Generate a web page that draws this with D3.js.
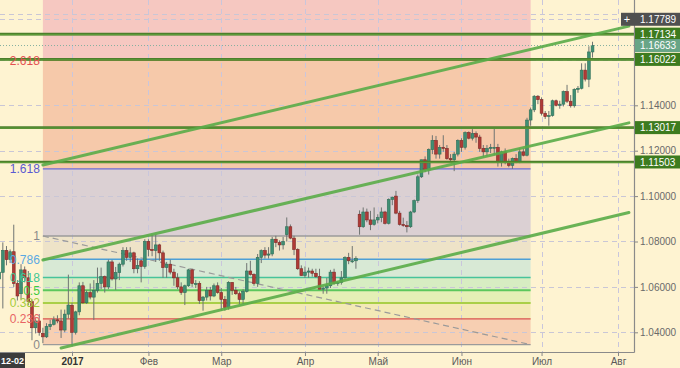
<!DOCTYPE html>
<html>
<head>
<meta charset="utf-8">
<script src="https://cdn.jsdelivr.net/npm/d3@7"></script>
<style>
body { margin: 0; background: #fef3d1; }
svg { display: block; font-family: "Liberation Sans", Arial, sans-serif; }
</style>
</head>
<body>
<svg width="680" height="368"></svg>
<script>
// trading calendar
var firstDay = "2016-12-02", lastDay = "2017-08-08";
var holidays = ["2016-12-26", "2017-01-02"];

// daily candles [open, high, low, close], one per trading day from 2016-12-02
var candles = [
    // Dec
    [1.0635, 1.0680, 1.0600, 1.0665], [1.0664, 1.0796, 1.0505, 1.0761], [1.0761, 1.0780, 1.0695, 1.0720],
    [1.0720, 1.0765, 1.0705, 1.0755], [1.0755, 1.0874, 1.0600, 1.0615], [1.0615, 1.0630, 1.0540, 1.0560],
    [1.0570, 1.0700, 1.0545, 1.0675], [1.0675, 1.0690, 1.0620, 1.0640], [1.0640, 1.0670, 1.0520, 1.0535],
    [1.0535, 1.0545, 1.0365, 1.0420], [1.0420, 1.0465, 1.0395, 1.0450], [1.0450, 1.0480, 1.0385, 1.0400],
    [1.0395, 1.0420, 1.0352, 1.0380], [1.0380, 1.0440, 1.0375, 1.0425], [1.0425, 1.0455, 1.0410, 1.0435],
    [1.0435, 1.0470, 1.0430, 1.0455], [1.0455, 1.0475, 1.0440, 1.0450], [1.0450, 1.0500, 1.0375, 1.0410],
    [1.0410, 1.0500, 1.0400, 1.0480], [1.0480, 1.0654, 1.0460, 1.0520],
    // Jan
    [1.0519, 1.0530, 1.0340, 1.0400], [1.0400, 1.0495, 1.0390, 1.0490], [1.0490, 1.0620, 1.0475, 1.0605],
    [1.0605, 1.0622, 1.0525, 1.0530], [1.0530, 1.0585, 1.0525, 1.0575], [1.0575, 1.0615, 1.0545, 1.0555],
    [1.0555, 1.0630, 1.0454, 1.0585], [1.0585, 1.0685, 1.0575, 1.0615], [1.0615, 1.0685, 1.0590, 1.0645],
    [1.0645, 1.0650, 1.0575, 1.0600], [1.0600, 1.0720, 1.0590, 1.0710], [1.0710, 1.0719, 1.0628, 1.0635],
    [1.0635, 1.0688, 1.0587, 1.0663], [1.0663, 1.0707, 1.0630, 1.0700], [1.0700, 1.0775, 1.0690, 1.0760],
    [1.0760, 1.0775, 1.0715, 1.0730], [1.0730, 1.0775, 1.0710, 1.0750], [1.0750, 1.0755, 1.0660, 1.0680],
    [1.0680, 1.0725, 1.0660, 1.0695], [1.0715, 1.0720, 1.0620, 1.0690], [1.0690, 1.0810, 1.0680, 1.0800],
    // Feb
    [1.0800, 1.0810, 1.0735, 1.0765], [1.0765, 1.0830, 1.0735, 1.0760], [1.0760, 1.0830, 1.0710, 1.0785],
    [1.0785, 1.0790, 1.0715, 1.0750], [1.0750, 1.0760, 1.0640, 1.0685], [1.0685, 1.0710, 1.0640, 1.0700],
    [1.0700, 1.0720, 1.0655, 1.0665], [1.0665, 1.0680, 1.0605, 1.0640], [1.0640, 1.0660, 1.0590, 1.0600],
    [1.0600, 1.0620, 1.0565, 1.0575], [1.0575, 1.0610, 1.0520, 1.0605], [1.0605, 1.0680, 1.0600, 1.0675],
    [1.0675, 1.0680, 1.0600, 1.0615], [1.0615, 1.0630, 1.0595, 1.0615], [1.0615, 1.0625, 1.0525, 1.0540],
    [1.0540, 1.0560, 1.0495, 1.0555], [1.0555, 1.0600, 1.0540, 1.0585], [1.0585, 1.0600, 1.0540, 1.0560],
    [1.0560, 1.0615, 1.0555, 1.0605], [1.0605, 1.0620, 1.0570, 1.0575],
    // Mar
    [1.0575, 1.0595, 1.0495, 1.0545], [1.0545, 1.0560, 1.0495, 1.0510], [1.0510, 1.0625, 1.0500, 1.0620],
    [1.0620, 1.0620, 1.0565, 1.0585], [1.0585, 1.0600, 1.0565, 1.0570], [1.0570, 1.0580, 1.0525, 1.0545],
    [1.0545, 1.0590, 1.0525, 1.0580], [1.0580, 1.0705, 1.0575, 1.0670], [1.0670, 1.0715, 1.0650, 1.0655],
    [1.0655, 1.0660, 1.0605, 1.0615], [1.0615, 1.0745, 1.0600, 1.0730], [1.0730, 1.0765, 1.0705, 1.0760],
    [1.0760, 1.0775, 1.0725, 1.0740], [1.0740, 1.0775, 1.0725, 1.0745], [1.0745, 1.0820, 1.0735, 1.0810],
    [1.0810, 1.0825, 1.0775, 1.0795], [1.0795, 1.0805, 1.0760, 1.0785], [1.0785, 1.0820, 1.0765, 1.0800],
    [1.0830, 1.0906, 1.0800, 1.0865], [1.0865, 1.0875, 1.0810, 1.0815], [1.0815, 1.0825, 1.0740, 1.0765],
    [1.0765, 1.0770, 1.0675, 1.0680], [1.0680, 1.0695, 1.0650, 1.0650],
    // Apr
    [1.0650, 1.0690, 1.0640, 1.0665], [1.0665, 1.0685, 1.0640, 1.0670], [1.0670, 1.0680, 1.0645, 1.0660],
    [1.0660, 1.0680, 1.0640, 1.0645], [1.0645, 1.0680, 1.0590, 1.0590], [1.0590, 1.0600, 1.0570, 1.0595],
    [1.0595, 1.0640, 1.0570, 1.0605], [1.0605, 1.0675, 1.0595, 1.0665], [1.0665, 1.0680, 1.0610, 1.0615],
    [1.0615, 1.0625, 1.0605, 1.0620], [1.0620, 1.0670, 1.0610, 1.0640], [1.0640, 1.0735, 1.0635, 1.0730],
    [1.0730, 1.0750, 1.0700, 1.0715], [1.0715, 1.0780, 1.0705, 1.0715], [1.0715, 1.0735, 1.0680, 1.0725],
    [1.0920, 1.0937, 1.0830, 1.0865], [1.0865, 1.0950, 1.0860, 1.0930], [1.0930, 1.0945, 1.0885, 1.0895],
    [1.0895, 1.0935, 1.0850, 1.0875], [1.0875, 1.0950, 1.0870, 1.0895],
    // May
    [1.0895, 1.0920, 1.0880, 1.0905], [1.0905, 1.0950, 1.0885, 1.0930], [1.0930, 1.0935, 1.0875, 1.0880],
    [1.0880, 1.0990, 1.0875, 1.0985], [1.0985, 1.0998, 1.0960, 1.0995], [1.1000, 1.1023, 1.0920, 1.0925],
    [1.0925, 1.0935, 1.0870, 1.0875], [1.0875, 1.0905, 1.0865, 1.0870], [1.0870, 1.0890, 1.0840, 1.0865],
    [1.0865, 1.0935, 1.0860, 1.0930], [1.0930, 1.0985, 1.0925, 1.0980], [1.0980, 1.1095, 1.0970, 1.1085],
    [1.1085, 1.1160, 1.1080, 1.1160], [1.1160, 1.1175, 1.1105, 1.1115], [1.1115, 1.1210, 1.1095, 1.1205],
    [1.1205, 1.1268, 1.1185, 1.1245], [1.1245, 1.1265, 1.1165, 1.1185], [1.1185, 1.1225, 1.1165, 1.1215],
    [1.1215, 1.1268, 1.1195, 1.1210], [1.1210, 1.1225, 1.1160, 1.1165], [1.1165, 1.1185, 1.1155, 1.1160],
    [1.1160, 1.1195, 1.1110, 1.1185], [1.1185, 1.1250, 1.1175, 1.1245],
    // Jun
    [1.1245, 1.1255, 1.1195, 1.1215], [1.1215, 1.1285, 1.1205, 1.1280], [1.1280, 1.1285, 1.1250, 1.1255],
    [1.1255, 1.1295, 1.1245, 1.1275], [1.1275, 1.1285, 1.1235, 1.1260], [1.1260, 1.1270, 1.1195, 1.1210],
    [1.1210, 1.1225, 1.1170, 1.1195], [1.1195, 1.1225, 1.1175, 1.1210], [1.1210, 1.1230, 1.1190, 1.1215],
    [1.1215, 1.1296, 1.1180, 1.1215], [1.1215, 1.1230, 1.1130, 1.1150], [1.1150, 1.1200, 1.1130, 1.1195],
    [1.1195, 1.1210, 1.1140, 1.1150], [1.1150, 1.1165, 1.1127, 1.1135], [1.1135, 1.1170, 1.1120, 1.1165],
    [1.1165, 1.1185, 1.1145, 1.1150], [1.1150, 1.1210, 1.1145, 1.1195], [1.1195, 1.1210, 1.1175, 1.1180],
    [1.1180, 1.1345, 1.1175, 1.1335], [1.1335, 1.1390, 1.1310, 1.1380], [1.1380, 1.1445, 1.1370, 1.1440],
    [1.1440, 1.1445, 1.1405, 1.1425],
    // Jul
    [1.1425, 1.1435, 1.1355, 1.1365], [1.1365, 1.1375, 1.1340, 1.1350], [1.1350, 1.1375, 1.1310, 1.1355],
    [1.1355, 1.1425, 1.1350, 1.1420], [1.1420, 1.1425, 1.1395, 1.1400], [1.1400, 1.1420, 1.1385, 1.1405],
    [1.1405, 1.1465, 1.1395, 1.1460], [1.1460, 1.1490, 1.1410, 1.1418], [1.1418, 1.1445, 1.1390, 1.1398],
    [1.1398, 1.1475, 1.1390, 1.1470], [1.1470, 1.1485, 1.1455, 1.1475], [1.1475, 1.1585, 1.1470, 1.1555],
    [1.1555, 1.1585, 1.1505, 1.1515], [1.1515, 1.1660, 1.1480, 1.1635], [1.1635, 1.1680, 1.1610, 1.1663]
];

var monthStarts = ["2017-01", "2017-02", "2017-03", "2017-04", "2017-05", "2017-06", "2017-07", "2017-08"];
var monthLabels = ["2017", "Фев", "Мар", "Апр", "Май", "Июн", "Июл", "Авг"];
var priceTicks = [1.04, 1.06, 1.08, 1.10, 1.12, 1.14];
var gridPrices = [1.04, 1.06, 1.08, 1.10, 1.12, 1.14, 1.16, 1.18];

var levelPrices = [1.17134, 1.16022, 1.13017, 1.11503]; // horizontal support / resistance
var lastPrice = 1.16633, crossPrice = 1.17789;

var fibRatios = [0, 0.236, 0.382, 0.5, 0.618, 0.786, 1, 1.618, 2.618, 4.236];
var fibLabels = ["0", "0.236", "0.382", "0.5", "0.618", "0.786", "1", "1.618", "2.618", ""];
var fibFrom = ["2016-12-20", 1.08242], fibTo = ["2017-06-28", 1.03458];

var trendLines = [
    [["2016-12-20", 1.11370], ["2017-08-04", 1.17489]],
    [["2016-12-20", 1.07185], ["2017-08-04", 1.13225]],
    [["2016-12-28", 1.03308], ["2017-08-04", 1.09278]]
];

// styles
var fibFill = ["#f7cfb2", "#f3e9b6", "#e5efb6", "#d7edc2", "#d8e9d5", "#eee3c8", "#dbd0d3", "#f6c9aa", "#f6c8c1"];
var fibStroke = ["#9b9b9b", "#d9534f", "#a9cf48", "#5cc75c", "#47c39b", "#4d9fd6", "#9b9b9b", "#6b6bd4", "#d9534f", null];
var fibText = ["#8a8a8a", "#e86464", "#a4cc3c", "#3fcb3f", "#3fc894", "#5aa9e2", "#8a8a8a", "#5a5ad2", "#e45050", null];

var svg = d3.select("svg"),
    plotW = 634,
    plotH = 352;

var fmt = d3.utcFormat("%Y-%m-%d");
var days = d3.utcDays(new Date(firstDay), new Date(lastDay))
    .filter(function (d) { return d.getUTCDay() % 6 !== 0; })
    .map(fmt)
    .filter(function (s) { return holidays.indexOf(s) < 0; });
var dayIdx = function (s) { return days.indexOf(s); };

var x = d3.scaleLinear().domain([0, 174]).range([-0.8, 632.56]),
    y = d3.scaleLinear().domain([1.04, 1.14]).range([332.3, 105.3]);

svg.append("defs").append("clipPath").attr("id", "clip")
    .append("rect").attr("width", plotW).attr("height", plotH);

var plot = svg.append("g").attr("clip-path", "url(#clip)");

// fibonacci zones
var fibX0 = x(dayIdx(fibFrom[0])), fibX1 = x(dayIdx(fibTo[0]));
var fibPrice = function (r) { return fibTo[1] + r * (fibFrom[1] - fibTo[1]); };

plot.selectAll(".zone").data(fibFill).enter().append("rect")
    .attr("x", fibX0)
    .attr("width", fibX1 - fibX0)
    .attr("y", function (d, i) { return y(fibPrice(fibRatios[i + 1])); })
    .attr("height", function (d, i) { return y(fibPrice(fibRatios[i])) - y(fibPrice(fibRatios[i + 1])); })
    .attr("fill", function (d) { return d; });

// grid
plot.selectAll(".hgrid").data(gridPrices.concat([crossPrice])).enter().append("line")
    .attr("x1", 0).attr("x2", plotW)
    .attr("y1", function (d) { return Math.round(y(d)) + 0.5; })
    .attr("y2", function (d) { return Math.round(y(d)) + 0.5; })
    .attr("stroke", "#c9c6d6").attr("stroke-dasharray", "5,4");

var monthIdx = monthStarts.map(function (m) {
    return days.findIndex(function (s) { return s.indexOf(m) === 0; });
});

plot.selectAll(".vgrid").data(monthIdx).enter().append("line")
    .attr("y1", 0).attr("y2", plotH)
    .attr("x1", function (d) { return Math.round(x(d)) + 0.5; })
    .attr("x2", function (d) { return Math.round(x(d)) + 0.5; })
    .attr("stroke", "#c9c6dc").attr("stroke-dasharray", "5,4");

// fibonacci level lines
plot.selectAll(".fibline").data(fibRatios.filter(function (r, i) { return fibStroke[i]; })).enter().append("line")
    .attr("x1", fibX0).attr("x2", fibX1)
    .attr("y1", function (d) { return y(fibPrice(d)); })
    .attr("y2", function (d) { return y(fibPrice(d)); })
    .attr("stroke", function (d, i) { return fibStroke[i]; })
    .attr("stroke-width", function (d) { return d === 0.5 || d === 0.382 ? 2 : 1.3; });

plot.append("line") //diagonal of the fibonacci grid
    .attr("x1", fibX0).attr("y1", y(fibFrom[1]))
    .attr("x2", fibX1).attr("y2", y(fibTo[1]))
    .attr("stroke", "#9a9a9a").attr("stroke-width", 1.2).attr("stroke-dasharray", "6,4");

svg.selectAll(".fiblabel").data(fibLabels.filter(function (s) { return s; })).enter().append("text")
    .attr("x", fibX0 - 3)
    .attr("y", function (d, i) { return y(fibPrice(fibRatios[i])); })
    .attr("dy", "0.36em")
    .attr("text-anchor", "end")
    .style("font-size", "12px")
    .attr("fill", function (d, i) { return fibText[i]; })
    .text(function (d) { return d; });

// candles
var candle = plot.selectAll(".candle").data(candles).enter().append("g");

candle.append("line")
    .attr("x1", function (d, i) { return x(i); })
    .attr("x2", function (d, i) { return x(i); })
    .attr("y1", function (d) { return y(d[1]); })
    .attr("y2", function (d) { return y(d[2]); })
    .attr("stroke", "#6f7472").attr("stroke-width", 1);

candle.append("rect")
    .attr("x", function (d, i) { return x(i) - 1.4; })
    .attr("width", 2.8)
    .attr("y", function (d) { return y(Math.max(d[0], d[3])); })
    .attr("height", function (d) { return Math.max(1, Math.abs(y(d[0]) - y(d[3]))); })
    .attr("fill", function (d) { return d[3] >= d[0] ? "#3f8f74" : "#b03a36"; })
    .attr("stroke", function (d) { return d[3] >= d[0] ? "#2f6f58" : "#7e2a27"; })
    .attr("stroke-width", 0.6);

// last price dotted line
plot.append("line")
    .attr("x1", 0).attr("x2", plotW)
    .attr("y1", y(lastPrice)).attr("y2", y(lastPrice))
    .attr("stroke", "#86b0a0").attr("stroke-dasharray", "1,2");

// horizontal levels
plot.selectAll(".level").data(levelPrices).enter().append("line")
    .attr("x1", 0).attr("x2", plotW)
    .attr("y1", function (d) { return y(d); })
    .attr("y2", function (d) { return y(d); })
    .attr("stroke", "#4d7f2c").attr("stroke-width", 2.6);

plot.selectAll(".level2").data(levelPrices).enter().append("line")
    .attr("x1", 0).attr("x2", plotW)
    .attr("y1", function (d) { return y(d) + 0.5; })
    .attr("y2", function (d) { return y(d) + 0.5; })
    .attr("stroke", "#5c9a38").attr("stroke-width", 1.2);

// trend channel
plot.selectAll(".trend").data(trendLines).enter().append("line")
    .attr("x1", function (d) { return x(dayIdx(d[0][0])); })
    .attr("y1", function (d) { return y(d[0][1]); })
    .attr("x2", function (d) { return x(dayIdx(d[1][0])); })
    .attr("y2", function (d) { return y(d[1][1]); })
    .attr("stroke", "#5aac48").attr("stroke-width", 3).attr("stroke-opacity", 0.9)
    .attr("stroke-linecap", "round");

// axes
var yAxis = svg.append("g")
    .attr("transform", "translate(" + plotW + ",0)")
    .call(d3.axisRight(y).tickValues(priceTicks).tickFormat(d3.format(".5f")).tickSize(4).tickSizeOuter(0));
yAxis.select(".domain").remove();
yAxis.selectAll("line").attr("stroke", "#888");
yAxis.selectAll("text").attr("x", 6).attr("fill", "#6a6a6a").style("font-size", "10px").style("font-family", "inherit");

var xAxis = svg.append("g")
    .attr("transform", "translate(0," + plotH + ")")
    .call(d3.axisBottom(x).tickValues(monthIdx).tickFormat(function (d, i) { return monthLabels[i]; }).tickSize(4));
xAxis.select(".domain").remove();
xAxis.selectAll("line").attr("stroke", "#888");
xAxis.selectAll("text").attr("y", 6).attr("fill", "#5a5a5a").style("font-size", "10px").style("font-family", "inherit")
    .filter(function (d, i) { return i === 0; }).attr("fill", "#333").style("font-weight", "bold");

svg.append("line").attr("x1", plotW + 0.5).attr("x2", plotW + 0.5).attr("y1", 0).attr("y2", plotH + 0.5)
    .attr("stroke", "#8a8a8a").attr("stroke-width", 1.2);
svg.append("line").attr("x1", 0).attr("x2", plotW + 0.5).attr("y1", plotH + 0.5).attr("y2", plotH + 0.5)
    .attr("stroke", "#8a8a8a").attr("stroke-width", 1.2);

// price boxes on the right
var boxes = levelPrices.map(function (p) { return { p: p, c: "#3d7b1f" }; })
    .concat([{ p: lastPrice, c: "#68a587" }, { p: crossPrice, c: "#505050", plus: true }]);

var box = svg.selectAll(".pbox").data(boxes).enter().append("g")
    .attr("transform", function (d) { return "translate(0," + y(d.p) + ")"; });

box.append("rect")
    .attr("x", function (d) { return d.plus ? plotW - 13 : plotW + 1; })
    .attr("y", -6.5)
    .attr("width", function (d) { return d.plus ? 59 : 45; })
    .attr("height", 13)
    .attr("fill", function (d) { return d.c; });

box.append("text")
    .attr("x", plotW + 6)
    .attr("dy", "0.36em")
    .attr("fill", "#fff")
    .style("font-size", "10px")
    .text(function (d) { return d3.format(".5f")(d.p); });

box.filter(function (d) { return d.plus; }).append("text")
    .attr("x", plotW - 7)
    .attr("dy", "0.36em")
    .attr("text-anchor", "middle")
    .attr("fill", "#fff")
    .style("font-size", "11px")
    .text("+");

// left date box
svg.append("rect").attr("x", 0).attr("y", plotH + 1).attr("width", 25).attr("height", 15).attr("fill", "#3c3c3c");
svg.append("text").attr("x", 1).attr("y", plotH + 12).attr("fill", "#fff")
    .style("font-size", "9.5px").style("font-weight", "bold")
    .attr("textLength", 23).attr("lengthAdjust", "spacingAndGlyphs")
    .text(days[0].slice(5));
</script>
</body>
</html>
